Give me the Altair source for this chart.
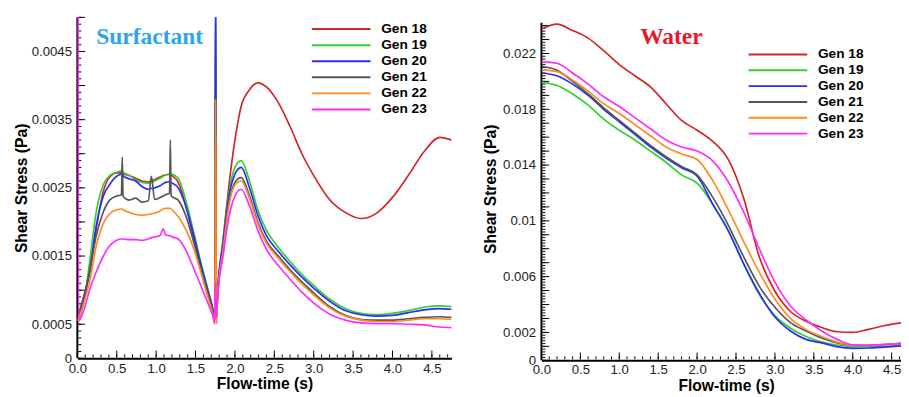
import altair as alt
import pandas as pd

gens = ["Gen 18", "Gen 19", "Gen 20", "Gen 21", "Gen 22", "Gen 23"]
colors = ["#D42424", "#2ED12E", "#2B2BFF", "#555555", "#FF8A1E", "#FF2BFF"]

# ---------------- Surfactant panel ----------------
t_surf = [0.006, 0.016, 0.08, 0.16, 0.24, 0.33, 0.41, 0.5, 0.56, 0.57, 0.58, 0.66, 0.74, 0.82,
          0.9, 0.94, 0.98, 1.05, 1.09, 1.12, 1.17, 1.18, 1.19, 1.28, 1.38, 1.48, 1.58,
          1.66, 1.72, 1.745, 1.755, 1.765, 1.78, 1.85, 1.92, 2.0, 2.08, 2.18, 2.29, 2.4,
          2.55, 2.7, 2.85, 3.0, 3.2, 3.4, 3.6, 3.8, 4.0, 4.2, 4.4, 4.6, 4.75]

surf_g18 = [0.00055, 0.0006, 0.0009, 0.00128, 0.0019, 0.00245, 0.00266, 0.00272, 0.00272,
            0.00272, 0.00271, 0.00268, 0.00264, 0.0026, 0.00259, 0.0026, 0.00262, 0.00266,
            0.00268, 0.00269, 0.0027, 0.0027, 0.00269, 0.00258, 0.00222, 0.00174, 0.00125,
            0.00092, 0.00068, 0.00058, 0.0055, 0.0006, 0.0009, 0.00175, 0.0025, 0.0032,
            0.0037, 0.00393, 0.00404, 0.00398, 0.00375, 0.0034, 0.003, 0.00268, 0.00233,
            0.00214, 0.00205, 0.00213, 0.00236, 0.00268, 0.00303, 0.00324, 0.0032]
surf_g19 = [0.00055, 0.00058, 0.0008, 0.00145, 0.00215, 0.00255, 0.00268, 0.00273, 0.00275,
            0.00274, 0.00273, 0.00268, 0.00262, 0.00258, 0.00257, 0.00258, 0.0026, 0.00264,
            0.00267, 0.00269, 0.0027, 0.0027, 0.0027, 0.00264, 0.0023, 0.00183, 0.00135,
            0.001, 0.00072, 0.00056, 0.0055, 0.0006, 0.0009, 0.0017, 0.0024, 0.0028,
            0.0029, 0.00262, 0.00218, 0.00188, 0.00163, 0.00142, 0.00123, 0.00107, 0.00087,
            0.00073, 0.00066, 0.00064, 0.00066, 0.0007, 0.00075, 0.00077, 0.00076]
surf_g20 = [0.0006, 0.00062, 0.00085, 0.0013, 0.00195, 0.00238, 0.00255, 0.00267, 0.0027,
            0.0027, 0.00268, 0.00263, 0.0026, 0.00252, 0.00248, 0.00249, 0.0025, 0.00253,
            0.00256, 0.00258, 0.00259, 0.00259, 0.00258, 0.0025, 0.00222, 0.00179, 0.00132,
            0.00098, 0.00072, 0.00056, 0.0055, 0.0006, 0.0010, 0.0017, 0.00235, 0.0027,
            0.0028, 0.00252, 0.0021, 0.0018, 0.00157, 0.00137, 0.00119, 0.00103, 0.00084,
            0.0007, 0.00064, 0.00062, 0.00063, 0.00067, 0.00071, 0.00073, 0.00072]
surf_g21 = [0.0006, 0.00065, 0.0009, 0.0013, 0.0018, 0.00215, 0.00232, 0.00238, 0.0024,
            0.00295, 0.00238, 0.00232, 0.00235, 0.00229, 0.00231, 0.00267, 0.00233, 0.00236,
            0.00238, 0.0024, 0.00242, 0.0032, 0.00238, 0.00232, 0.00208, 0.00169, 0.00126,
            0.00094, 0.00068, 0.00055, 0.0038, 0.0006, 0.00095, 0.0016, 0.00225, 0.00258,
            0.00265, 0.0024, 0.002, 0.00172, 0.0015, 0.0013, 0.00112, 0.00096, 0.00076,
            0.00063, 0.00057, 0.00056, 0.00056, 0.00058, 0.0006, 0.00061, 0.0006]
surf_g22 = [0.00055, 0.00058, 0.0008, 0.00115, 0.00165, 0.00198, 0.00212, 0.00218, 0.00219,
            0.00219, 0.00218, 0.00214, 0.00211, 0.0021, 0.00211, 0.00212, 0.00213, 0.00216,
            0.00219, 0.0022, 0.0022, 0.0022, 0.00219, 0.00208, 0.00188, 0.0016, 0.00121,
            0.00088, 0.00064, 0.0005, 0.0038, 0.0005, 0.0009, 0.00158, 0.00222, 0.00254,
            0.0026, 0.00236, 0.00197, 0.00169, 0.00147, 0.00127, 0.00109, 0.00093, 0.00074,
            0.00062, 0.00056, 0.00054, 0.00054, 0.00056, 0.00058, 0.00058, 0.00057]
surf_g23 = [0.006, 0.00055, 0.0007, 0.00102, 0.00127, 0.0015, 0.00165, 0.00173, 0.00175,
            0.00175, 0.00175, 0.00174, 0.00174, 0.00173, 0.00175, 0.00177, 0.00178, 0.0018,
            0.0019, 0.00181, 0.0018, 0.0018, 0.00179, 0.00175, 0.00158, 0.00131, 0.00103,
            0.0008, 0.00062, 0.00052, 0.0011, 0.0006, 0.0009, 0.0015, 0.00205, 0.00238,
            0.00248, 0.00225, 0.00188, 0.0016, 0.00136, 0.00116, 0.00097, 0.00081, 0.00065,
            0.00056, 0.00052, 0.00051, 0.00051, 0.0005, 0.00049, 0.00046, 0.00045]

surf_y_labels = [0, 0.0005, 0.0015, 0.0025, 0.0035, 0.0045]
x_labels = [0, 0.5, 1, 1.5, 2, 2.5, 3, 3.5, 4, 4.5]

# ---------------- Water panel ----------------
t_water = [0, 0.2, 0.4, 0.6, 0.8, 1.0, 1.2, 1.4, 1.6, 1.8, 2.0, 2.2, 2.4, 2.6, 2.8, 3.0,
           3.2, 3.4, 3.6, 3.8, 4.0, 4.2, 4.4, 4.62]
water_g18 = [0.02375, 0.0241, 0.02365, 0.0231, 0.0222, 0.0212, 0.0204, 0.0196, 0.0184,
             0.0172, 0.0165, 0.0157, 0.0144, 0.0116, 0.0074, 0.00495, 0.0035, 0.0028,
             0.00235, 0.00205, 0.002, 0.00222, 0.00248, 0.00268]
water_g19 = [0.01995, 0.0197, 0.0191, 0.0183, 0.0173, 0.0165, 0.0158, 0.015, 0.0142,
             0.0133, 0.0127, 0.0112, 0.0093, 0.0069, 0.0047, 0.0032, 0.0023, 0.0017,
             0.0013, 0.0011, 0.00098, 0.00097, 0.001, 0.0011]
water_g20 = [0.0206, 0.0204, 0.0198, 0.019, 0.018, 0.0171, 0.0162, 0.0153, 0.0145, 0.0138,
             0.0132, 0.0112, 0.0093, 0.0069, 0.0048, 0.0031, 0.0021, 0.0015, 0.00125,
             0.00098, 0.00086, 0.00088, 0.00095, 0.00103]
water_g21 = [0.02107, 0.0208, 0.02, 0.0191, 0.0181, 0.0172, 0.0163, 0.0154, 0.0146, 0.0139,
             0.0133, 0.0117, 0.0097, 0.0074, 0.0053, 0.0038, 0.0027, 0.0021, 0.0016,
             0.00125, 0.0011, 0.00108, 0.00112, 0.00121]
water_g22 = [0.02083, 0.0207, 0.0201, 0.0193, 0.0184, 0.0177, 0.0169, 0.0161, 0.0153,
             0.0148, 0.0144, 0.0129, 0.0108, 0.0085, 0.0063, 0.0044, 0.003, 0.0022,
             0.0017, 0.0013, 0.0011, 0.00108, 0.00112, 0.00121]
water_g23 = [0.02142, 0.0213, 0.0206, 0.0198, 0.0189, 0.0182, 0.0174, 0.0166, 0.0158,
             0.0153, 0.015, 0.0143, 0.0128, 0.0106, 0.008, 0.0056, 0.0039, 0.0029, 0.0021,
             0.0015, 0.0011, 0.00108, 0.00112, 0.00121]

water_y_labels = [0, 0.002, 0.006, 0.01, 0.014, 0.018, 0.022]
water_axis_top = 0.0242


def long_df(t, series):
    rows = []
    for g, vals in zip(gens, series):
        for tt, v in zip(t, vals):
            rows.append({"gen": g, "t": tt, "v": v})
    return pd.DataFrame(rows)


def steps(lo, hi, step):
    n = int(round((hi - lo) / step))
    return [round(lo + i * step, 6) for i in range(n + 1)]


color = alt.Color("gen:N", scale=alt.Scale(domain=gens, range=colors), legend=None)


def panel(df, t_max, v_max, axis_top, width, height, y_labels, y_fmt, y_major, y_minor,
          title_text, title_color, title_pos, leg_x, leg_y0, leg_dy, x_title_x,
          y_label_pad, y_title_pad):
    xs = alt.Scale(domain=[0, t_max], nice=False, zero=False)
    ys = alt.Scale(domain=[0, v_max], nice=False, zero=False)
    x_axis = alt.Axis(values=x_labels, title="Flow-time (s)", labelPadding=3,
                      titlePadding=1, titleX=x_title_x)
    y_axis = alt.Axis(values=y_labels, format=y_fmt, title="Shear Stress (Pa)",
                      labelPadding=y_label_pad, titlePadding=y_title_pad, domain=False)

    lines = alt.Chart(df).mark_line(strokeWidth=1.7, clip=True, interpolate="monotone").encode(
        x=alt.X("t:Q", scale=xs, axis=x_axis),
        y=alt.Y("v:Q", scale=ys, axis=y_axis),
        color=color,
    )

    layers = []
    # y axis line up to the axis top
    layers.append(
        alt.Chart(pd.DataFrame({"v": [0], "v2": [axis_top]})).mark_rule(
            color="black", strokeWidth=2).encode(
            y=alt.Y("v:Q", scale=ys, axis=y_axis), y2="v2:Q", x=alt.value(0))
    )
    # inward ticks on y axis
    for vals, ln in ((y_minor, 4), (y_major, 8)):
        vals = [v for v in vals if v <= axis_top + 1e-9]
        layers.append(
            alt.Chart(pd.DataFrame({"v": vals})).mark_rule(color="black", strokeWidth=1).encode(
                y=alt.Y("v:Q", scale=ys, axis=y_axis), x=alt.value(1), x2=alt.value(ln))
        )
    # inward ticks on x axis
    x_minor = steps(0, t_max - 0.05, 0.1)
    x_major = steps(0, 4.5, 0.5)
    for vals, ln in ((x_minor, 4), (x_major, 8)):
        layers.append(
            alt.Chart(pd.DataFrame({"t": vals})).mark_rule(color="black", strokeWidth=1).encode(
                x=alt.X("t:Q", scale=xs, axis=x_axis), y=alt.value(height - 1), y2=alt.value(height - ln))
        )

    leg = pd.DataFrame({"gen": gens, "rank": list(range(len(gens)))})
    leg_base = alt.Chart(leg).transform_calculate(ly=f"{leg_y0} + {leg_dy} * datum.rank")
    leg_lines = leg_base.mark_rule(strokeWidth=2).encode(
        x=alt.value(leg_x), x2=alt.value(leg_x + 60),
        y=alt.Y("ly:Q", scale=None), color=color)
    leg_text = leg_base.mark_text(align="left", baseline="middle", font="Liberation Sans",
                                  fontWeight="bold", fontSize=14, color="black").encode(
        x=alt.value(leg_x + 71), y=alt.Y("ly:Q", scale=None), text="gen:N")

    title = alt.Chart(pd.DataFrame({"label": [title_text]})).mark_text(
        font="Liberation Serif", fontWeight="bold", fontSize=24, color=title_color,
        align="center", baseline="middle").encode(
        x=alt.value(title_pos[0]), y=alt.value(title_pos[1]), text="label:N")

    return alt.layer(*layers, lines, leg_lines, leg_text, title).properties(
        width=width, height=height)


left = panel(long_df(t_surf, [surf_g18, surf_g19, surf_g20, surf_g21, surf_g22, surf_g23]),
             4.75, 0.005, 0.005, 383, 349, surf_y_labels, ".4~f",
             steps(0, 0.005, 0.0005), steps(0, 0.005, 0.0001),
             "Surfactant", "#2AA6F0", (74, 20), 240, 12, 16.45, 191.5, 6, 2)

right = panel(long_df(t_water, [water_g18, water_g19, water_g20, water_g21, water_g22, water_g23]),
              4.62, 0.02459, water_axis_top, 368, 351, water_y_labels, ".3~f",
              steps(0, 0.024, 0.001), steps(0, 0.024, 0.0002),
              "Water", "#E8192C", (133, 20), 212, 38, 16.2, 189, 6, 4)

chart = alt.hconcat(left, right, spacing=32).properties(
    padding={"left": 5, "top": 4, "right": 0, "bottom": 0}
).configure_view(strokeWidth=0).configure_axis(
    domainColor="black", domainWidth=2, grid=False, ticks=False, labelFlush=False,
    labelFont="Liberation Sans", labelFontSize=13.5, labelColor="#222222",
    titleFont="Liberation Sans", titleFontSize=16, titleFontWeight="bold", titleColor="black",
)

chart.save("out.html", embed_options={"renderer": "svg", "actions": False})
